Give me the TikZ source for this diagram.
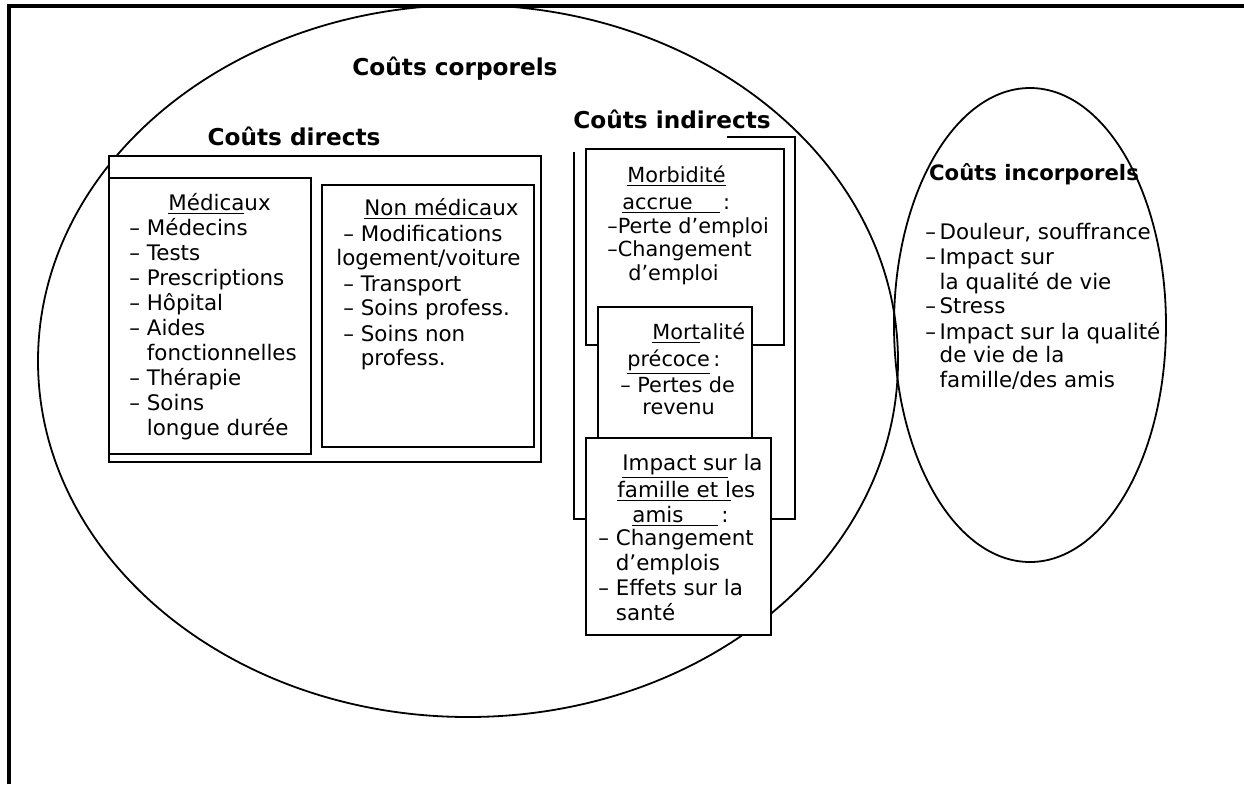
\documentclass[tikz,border=0pt]{standalone}
\usepackage{fontspec}
\setmainfont{DejaVu Sans}
\usetikzlibrary{fit,shapes.geometric}
\begin{document}
\begin{tikzpicture}[x=0.5pt,y=-0.5pt,
  frame/.style={line width=2pt, line join=miter},
  oval/.style={draw, ellipse, line width=0.9pt, inner sep=0pt},
  box/.style={draw, fill=white, line width=0.8pt, inner sep=0pt},
  title/.style={font=\fontsize{11.6}{13}\selectfont\bfseries, inner sep=0pt, anchor=base},
  txt/.style={font=\fontsize{10.7}{12.5}\selectfont, inner sep=0pt, anchor=base west},
  txts/.style={font=\fontsize{10.4}{12.5}\selectfont, inner sep=0pt, anchor=base west},
]
\useasboundingbox (0,0) rectangle (1244,784);
\draw[frame] (9,784) -- (9,5.5) -- (1244,5.5);
% ellipses
\node[oval, minimum width=430pt, minimum height=356pt] (corp) at (468,361) {};
\node[oval, minimum width=136pt, minimum height=237pt] (incorp) at (1030,325) {};
% titles
\node[title] (tcorp) at (455,75) {Coûts corporels};
\node[title] (tdir) at (294,145) {Coûts directs};
\node[title] (tind) at (672,128) {Coûts indirects};
\node[title, font=\fontsize{10.6}{12}\selectfont\bfseries] (tinc) at (1034,180) {Coûts incorporels};
% direct costs
\node[box, line width=1.3pt, fit={(109,156) (541,462)}] (dir) {};
\node[box, fit={(109,178) (311,454)}] (med) {};
\node[box, line width=1.1pt, fit={(322,185) (534,447)}] (nmed) {};
\node[txt] (medt) at (168,210) {\underline{Médica}ux};
\foreach \t [count=\i] in {– Médecins, – Tests, – Prescriptions, – Hôpital, – Aides, \hphantom{– }fonctionnelles, – Thérapie, – Soins, \hphantom{– }longue durée}
  \node[txt] (med\i) at (129,{210+25*\i}) {\t};
\node[txt] (nmedt) at (364,215.5) {\underline{Non médica}ux};
\node[txt] (nm1) at (343,241.5) {– Modifications};
\node[txt] (nm2) at (336,265.5) {logement/voiture};
\node[txt] (nm3) at (343,291.5) {– Transport};
\node[txt] (nm4) at (343,315.5) {– Soins profess.};
\node[txt] (nm5) at (343,341.5) {– Soins non};
\node[txt] (nm6) at (343,365.5) {\hphantom{– }profess.};
% indirect costs
\draw[line width=0.8pt] (727,137) -- (795,137) -- (795,519) -- (574,519) -- (574,152);
\node[box, fit={(586,149) (784,345)}] (morb) {};
\node[txts] (mb1) at (627,182) {\underline{Morbidité}};
\node[txts] (mb2) at (622,209) {\underline{accrue\hspace{1.3em}}\,:};
\node[txts] (mb3) at (607,233) {–Perte d’emploi};
\node[txts] (mb4) at (607,256) {–Changement};
\node[txts] (mb5) at (628,280) {d’emploi};
\node[box, fit={(598,307) (752,460)}] (mort) {};
\node[txts] (mt1) at (652,339) {\underline{Mort}alité};
\node[txts] (mt2) at (627,366) {\underline{précoce}\,:};
\node[txts] (mt3) at (620,392) {– Pertes de};
\node[txts] (mt4) at (642,414) {revenu};
\node[box, fit={(586,438) (771,635)}] (imp) {};
\node[txt] (ip1) at (622,470) {\underline{Impact su}r la};
\node[txt] (ip2) at (617,497) {\underline{famille et l}es};
\node[txt] (ip3) at (632,522) {\underline{amis\hspace{1.6em}}\,:};
\node[txt] (ip4) at (598,545) {– Changement};
\node[txt] (ip5) at (598,570) {\hphantom{– }d’emplois};
\node[txt] (ip6) at (598,595) {– Effets sur la};
\node[txt] (ip7) at (598,620) {\hphantom{– }santé};
% intangible costs
\node[txt] (ic1) at (925,239) {–\,Douleur, souffrance};
\node[txt] (ic2) at (925,264) {–\,Impact sur};
\node[txt] (ic3) at (925,289) {\hphantom{–\,}la qualité de vie};
\node[txt] (ic4) at (925,313) {–\,Stress};
\node[txt] (ic5) at (925,339) {–\,Impact sur la qualité};
\node[txt] (ic6) at (925,362) {\hphantom{–\,}de vie de la};
\node[txt] (ic7) at (925,387) {\hphantom{–\,}famille/des amis};
\end{tikzpicture}
\end{document}
